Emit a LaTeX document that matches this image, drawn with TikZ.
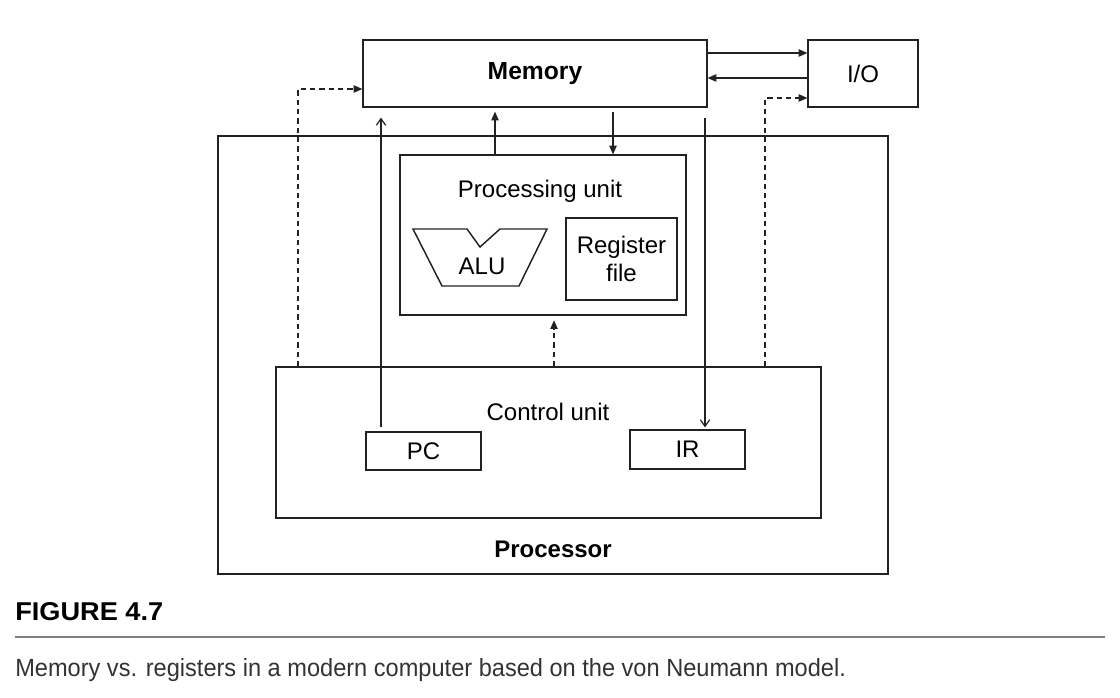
\documentclass[tikz,border=0pt]{standalone}
\usepackage{fontspec}
\setmainfont{Liberation Sans}
\usetikzlibrary{arrows.meta,fit,calc}
\definecolor{ln}{HTML}{222222}
\definecolor{cap}{HTML}{333333}
\begin{document}
\begin{tikzpicture}[x=0.75pt,y=-0.75pt,
  font=\fontsize{18pt}{20pt}\selectfont,
  box/.style={draw=ln, line width=0.9pt, inner sep=0pt},
  lbl/.style={inner sep=0pt, text=black},
  conn/.style={draw=ln, line width=0.9pt, -{Triangle[length=6.5pt,width=5.5pt]}},
  dconn/.style={conn, dash pattern=on 4pt off 3pt},
  oconn/.style={draw=ln, line width=0.9pt, -{Straight Barb[length=5pt,width=7pt]}}]
\useasboundingbox (0,0) rectangle (1120,698);

% boxes
\node[box, fit={(363,40) (707,107)}] (mem) {};
\node[lbl, font=\fontsize{18.5pt}{20pt}\selectfont\bfseries] (memt) at (mem.center) {Memory};
\node[box, fit={(808,40) (918,107)}] (io) {};
\node[lbl] (iot) at (io.center) {I/O};
\node[box, fit={(218,136) (888,574)}] (proc) {};
\node[lbl, font=\fontsize{18pt}{20pt}\selectfont\bfseries] (proct) at (553,549) {Processor};
\node[box, fit={(400,155) (686,315)}] (pu) {};
\node[lbl] (put) at (540,191) {Processing unit};
\node[box, fit={(566,218) (677,300)}] (rf) {};
\node[lbl, align=center, font=\fontsize{18pt}{21pt}\selectfont] (rft) at (rf.center) {Register\\file};
\node[lbl] (alu) at (482,266) {ALU};
\draw[ln, line width=1.1pt, line join=miter] (413,229) -- (467,229) -- (480,247) -- (500,229) -- (547,229)
  -- (519,286) -- (442,286) -- cycle;
\node[box, fit={(276,367) (821,518)}] (cu) {};
\node[lbl] (cut) at (548,412) {Control unit};
\node[box, fit={(366,432) (481,470)}] (pc) {};
\node[lbl] (pct) at (pc.center) {PC};
\node[box, fit={(630,430) (745,469)}] (ir) {};
\node[lbl] (irt) at (ir.center) {IR};

% helper coordinates
\coordinate (h53) at (0,53);
\coordinate (h78) at (0,78);
\coordinate (h89) at (0,89);
\coordinate (h98) at (0,98);
\coordinate (x298) at (298,0);
\coordinate (x765) at (765,0);
\coordinate (x381) at (381,0);
\coordinate (x495) at (495,0);
\coordinate (x613) at (613,0);
\coordinate (x705) at (705,0);
\coordinate (x554) at (554,0);

% connectors
\draw[conn] (mem.east |- h53) -- (io.west |- h53);
\draw[conn] (io.west |- h78) -- (mem.east |- h78);
\draw[dconn] (cu.north -| x298) |- (mem.west |- h89);
\draw[dconn] (cu.north -| x765) |- (io.west |- h98);
\draw[oconn, shorten <=3pt, shorten >=7.5pt] (pc.north -| x381) -- (mem.south -| x381);
\draw[conn, shorten >=3pt] (pu.north -| x495) -- (mem.south -| x495);
\draw[conn, shorten <=3pt] (mem.south -| x613) -- (pu.north -| x613);
\draw[oconn, shorten <=7.5pt, shorten >=1.5pt] (mem.south -| x705) -- (ir.north -| x705);
\draw[dconn, shorten >=3.5pt] (cu.north -| x554) -- (pu.south -| x554);

% caption
\node[anchor=base west, inner sep=0pt] (fig) at (15,620) {\resizebox{111pt}{13.5pt}{\bfseries FIGURE 4.7}};
\draw[draw=gray, line width=1.5pt] (15,637) -- (1105,637);
\node[anchor=base west, inner sep=0pt, text=cap] (capt) at (15,676) {\resizebox{623pt}{13.5pt}{Memory vs. registers in a modern computer based on the von Neumann model.}};
\end{tikzpicture}
\end{document}
